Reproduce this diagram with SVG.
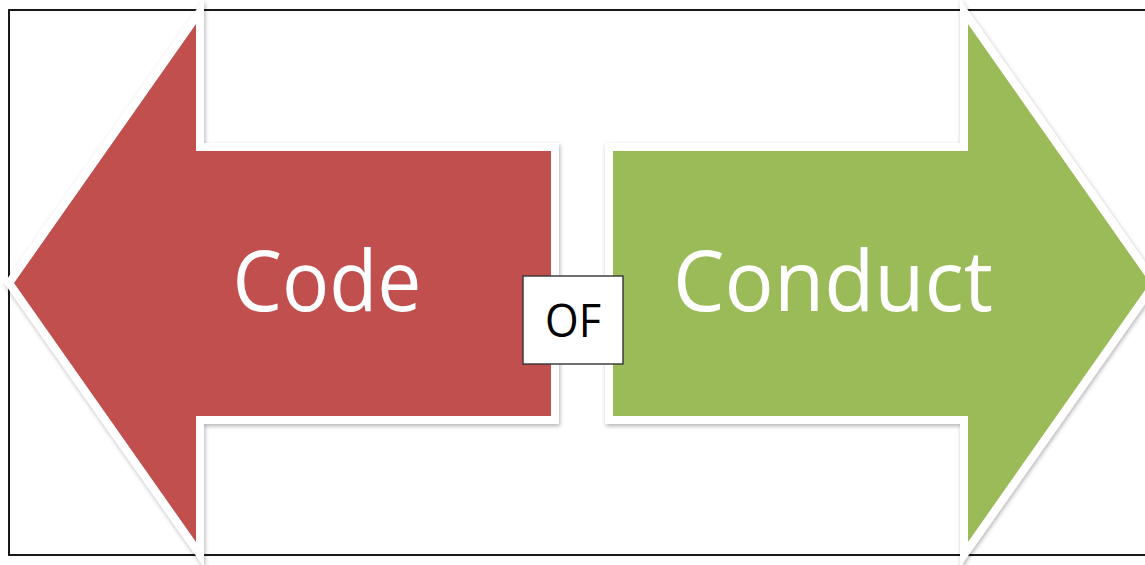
<svg xmlns="http://www.w3.org/2000/svg" width="1145" height="565" viewBox="0 0 1145 565">
  <style>
    .arrow { stroke: #ffffff; stroke-width: 16; stroke-linejoin: miter; stroke-miterlimit: 10; paint-order: stroke; filter: url(#shadow); }
    .big { font-family: "Open Sans", "Noto Sans", "Liberation Sans", sans-serif; font-size: 85px; fill: #ffffff; text-anchor: middle; }
    .of { font-family: "Open Sans", "Noto Sans", "Liberation Sans", sans-serif; font-size: 46px; fill: #000000; text-anchor: middle; }
  </style>
  <defs>
    <filter id="shadow" x="-10%" y="-10%" width="120%" height="120%">
      <feDropShadow dx="1" dy="2" stdDeviation="2" flood-color="#000000" flood-opacity="0.3"/>
    </filter>
  </defs>
  <rect x="0" y="0" width="1145" height="565" fill="#ffffff"/>
  <rect id="frame" x="9" y="10" width="1150" height="545" fill="none" stroke="#000000" stroke-width="1.8"/>
  <g id="code">
    <path class="arrow" fill="#C0504D" d="M14,283 L196,24 L196,151 L551,151 L551,416 L196,416 L196,542 Z"/>
    <text class="big" x="327" y="311" textLength="189" lengthAdjust="spacingAndGlyphs">Code</text>
  </g>
  <g id="conduct">
    <path class="arrow" fill="#9BBB59" d="M613,151 L968,151 L968,24 L1150,283 L968,542 L968,416 L613,416 Z"/>
    <text class="big" x="833" y="311" textLength="320" lengthAdjust="spacingAndGlyphs">Conduct</text>
  </g>
  <g id="connectors"></g>
  <g id="of">
    <rect x="523" y="276" width="100" height="88" fill="#ffffff" stroke="#333333" stroke-width="1.4"/>
    <text class="of" x="573" y="337" textLength="56" lengthAdjust="spacingAndGlyphs">OF</text>
  </g>
</svg>
